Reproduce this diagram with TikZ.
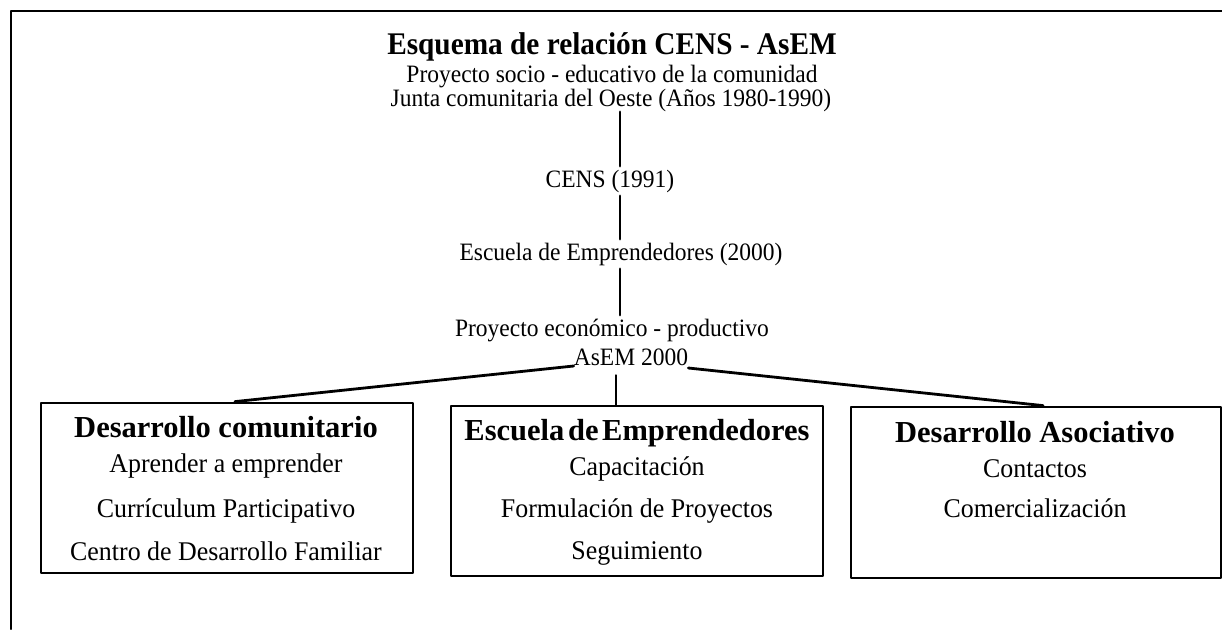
\documentclass[tikz,border=0pt]{standalone}
\usepackage{fontspec}
\setmainfont{Liberation Serif}
\newfontfamily\fuentetitulo[FakeStretch=0.93]{Liberation Serif}
\newfontfamily\fuentelinea[FakeStretch=0.94]{Liberation Serif}
\newfontfamily\fuenteitem[FakeStretch=0.96]{Liberation Serif}
\usetikzlibrary{positioning}

\tikzset{
  titulo/.style={anchor=base,font=\fuentetitulo\fontsize{31.5}{34}\selectfont\bfseries},
  linea/.style={anchor=base,font=\fuentelinea\fontsize{25}{28}\selectfont},
  cabeza/.style={anchor=base,font=\fontsize{30.5}{33}\selectfont\bfseries},
  item/.style={anchor=base,font=\fuenteitem\fontsize{27}{29}\selectfont},
  caja/.style={draw,line width=2.8pt,minimum width=372pt,minimum height=170pt,inner sep=0pt},
  trazo/.style={line width=2.8pt}
}

\begin{document}
\begin{tikzpicture}[line cap=round,line join=round,x=1pt,y=-1pt]
\useasboundingbox (0,0) rectangle (1222,629);
% marco
\draw[trazo] (11,629) -- (11,11) -- (1222,11);
% cabecera
\node[titulo] (titulo) at (612,54) {Esquema de relación CENS - AsEM};
\node[linea] (socio) at (612,82) {Proyecto socio - educativo de la comunidad};
\node[linea] (junta) at (611,106) {Junta comunitaria del Oeste (Años 1980-1990)};
\node[linea] (cens) at (610,187) {CENS (1991)};
\node[linea] (escuela) at (621,260) {Escuela de Emprendedores (2000)};
\node[linea] (proyecto) at (612,336) {Proyecto económico - productivo};
\node[linea,inner xsep=0pt,inner ysep=10pt] (asem) at (631,365) {AsEM 2000};
\coordinate (eje) at (620,0);
\draw[trazo] ([yshift=3pt]junta.south -| eje) -- (cens.north -| eje);
\draw[trazo] (cens.south -| eje) -- (escuela.north -| eje);
\draw[trazo] (escuela.south -| eje) -- (proyecto.north -| eje);
% cajas
\node[caja] (caja1) at (227,488) {};
\node[caja] (caja2) at (637,491) {};
\node[caja,minimum width=370pt,minimum height=171pt] (caja3) at (1036,492.5) {};
\coordinate (medio) at ([xshift=-21pt]caja2.north);
\draw[trazo] ([yshift=-1pt]asem.base west) -- ([xshift=8pt]caja1.north);
\draw[trazo] (asem.south -| medio) -- (medio);
\draw[trazo] ([yshift=-3pt]asem.base east) -- ([xshift=7pt]caja3.north);
% textos de las cajas
\node[cabeza] (dc) at (226,437) {Desarrollo comunitario};
\node[item] (dc1) at (226,472) {Aprender a emprender};
\node[item] (dc2) at (226,517) {Currículum Participativo};
\node[item] (dc3) at (226,560) {Centro de Desarrollo Familiar};
\node[cabeza] (ee) at (637,440) {\spaceskip=0.12em Escuela de Emprendedores};
\node[item] (ee1) at (637,475) {Capacitación};
\node[item] (ee2) at (637,517) {Formulación de Proyectos};
\node[item] (ee3) at (637,559) {Seguimiento};
\node[cabeza] (da) at (1035,442) {Desarrollo Asociativo};
\node[item] (da1) at (1035,477) {Contactos};
\node[item] (da2) at (1035,517) {Comercialización};
\end{tikzpicture}
\end{document}
